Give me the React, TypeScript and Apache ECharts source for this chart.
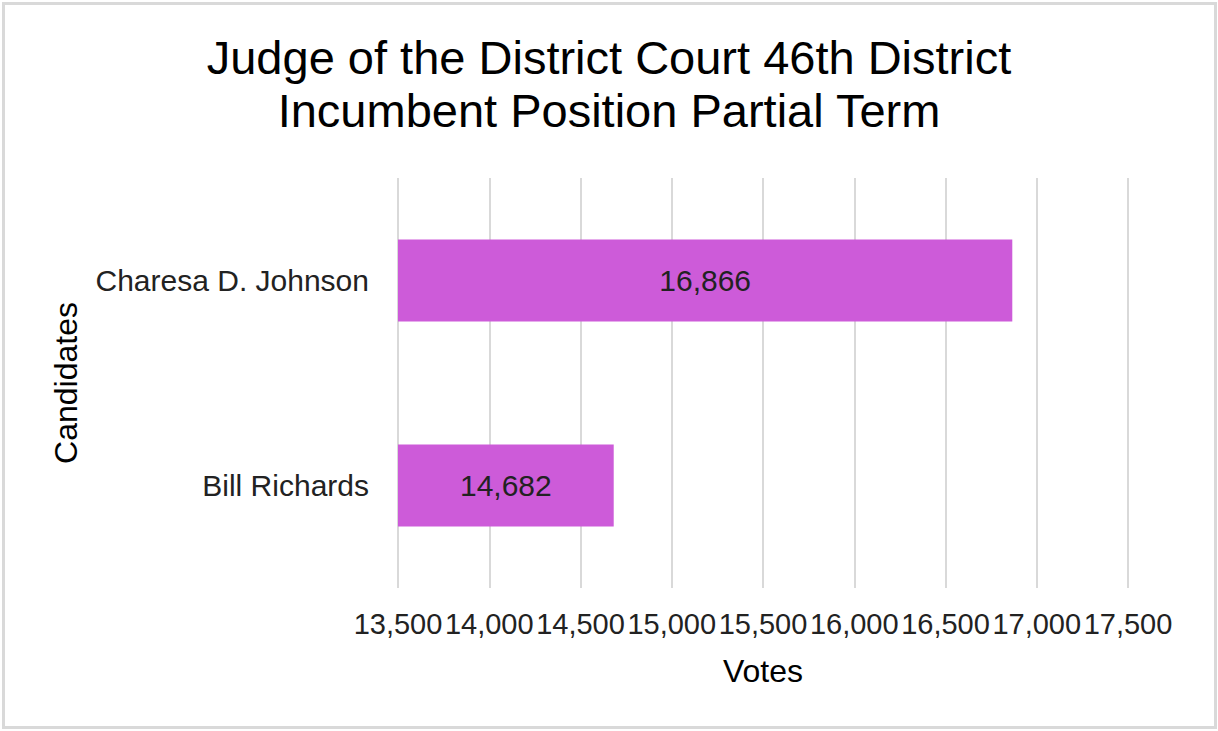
import React, { useEffect, useRef } from "react";
import * as echarts from "echarts";

const titleLines = ["Judge of the District Court 46th District", "Incumbent Position Partial Term"];
const candidates = ["Charesa D. Johnson", "Bill Richards"];
const votes = [16866, 14682];
const xMin = 13500;
const xMax = 17500;
const xStep = 500;
const xAxisName = "Votes";
const yAxisName = "Candidates";

const FONT = 'Arial, "Liberation Sans", sans-serif';
const fmt = (v: number) => v.toLocaleString("en-US");

export default function App() {
  const ref = useRef<HTMLDivElement>(null);
  useEffect(() => {
    if (!ref.current) return;
    const chart = echarts.init(ref.current, null, { renderer: "svg" });
    chart.setOption({
      animation: false,
      backgroundColor: "#ffffff",
      textStyle: { fontFamily: FONT },
      title: {
        text: titleLines.join("\n"),
        left: "center",
        top: 31,
        padding: 0,
        textStyle: { fontFamily: FONT, fontSize: 47, fontWeight: "normal", color: "#000", lineHeight: 53 },
      },
      graphic: [
        {
          type: "rect",
          shape: { x: 3.5, y: 3.5, width: 1212, height: 724 },
          style: { fill: "none", stroke: "#d9d9d9", lineWidth: 3 },
          silent: true,
        },
      ],
      grid: { left: 398, right: 90, top: 178, bottom: 143, containLabel: false },
      xAxis: {
        type: "value",
        min: xMin,
        max: xMax,
        interval: xStep,
        name: xAxisName,
        nameLocation: "middle",
        nameGap: 67,
        nameTextStyle: { fontFamily: FONT, fontSize: 32, color: "#000" },
        axisLine: { show: false },
        axisTick: { show: false },
        axisLabel: {
          fontFamily: FONT,
          fontSize: 29,
          color: "#222",
          margin: 21,
          formatter: (v: number) => fmt(v),
        },
        splitLine: { show: true, lineStyle: { color: "#d9d9d9", width: 2 } },
      },
      yAxis: {
        type: "category",
        data: candidates,
        inverse: true,
        name: yAxisName,
        nameLocation: "middle",
        nameGap: 316,
        nameTextStyle: { fontFamily: FONT, fontSize: 32, color: "#000" },
        axisLine: { show: false },
        axisTick: { show: false },
        axisLabel: { fontFamily: FONT, fontSize: 30, color: "#222", margin: 29 },
        splitLine: { show: false },
      },
      series: [
        {
          type: "bar",
          data: votes,
          barCategoryGap: "60%",
          itemStyle: { color: "#cd5bd9" },
          label: {
            show: true,
            position: "inside",
            fontFamily: FONT,
            fontSize: 30,
            color: "#222",
            formatter: (p: any) => fmt(p.value),
          },
        },
      ],
    });
    return () => chart.dispose();
  }, []);
  return <div ref={ref} style={{ position: "fixed", left: 0, top: 0, width: 1218, height: 731 }} />;
}
